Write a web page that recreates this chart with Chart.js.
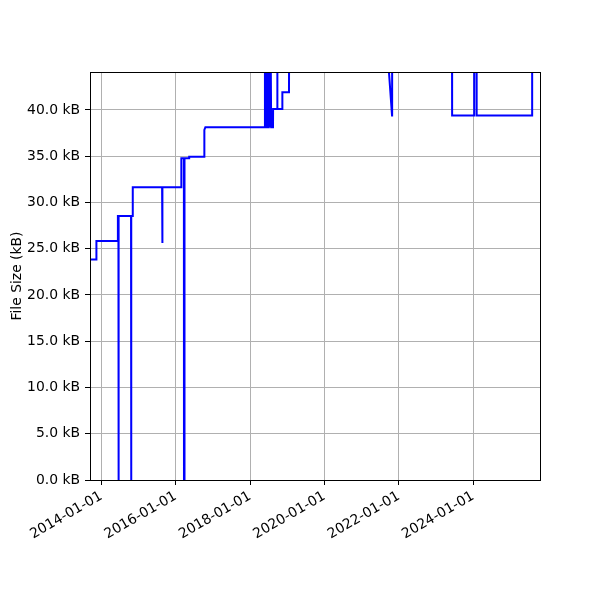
<!DOCTYPE html>
<html>
<head>
<meta charset="utf-8">
<script src="https://cdn.jsdelivr.net/npm/chart.js@4"></script>
<style>
  html, body { margin: 0; padding: 0; background: #ffffff; }
  #wrap { width: 600px; height: 600px; }
</style>
</head>
<body>
<div id="wrap"><canvas id="c" width="600" height="600"></canvas></div>
<script>
// ---- data ----
const dates = [
  '2013-09-12','2013-11-13','2013-11-14','2014-06-12','2014-06-13','2014-06-18','2014-06-19','2014-06-21',
  '2014-10-20','2014-10-21','2014-10-23','2014-11-05','2014-11-06',
  '2015-08-21','2015-08-23','2015-08-25',
  '2016-02-25','2016-02-26','2016-03-22','2016-03-23','2016-03-25','2016-03-27','2016-03-29',
  '2016-05-12','2016-05-13','2016-10-08','2016-10-09','2016-10-19',
  '2018-05-25','2018-05-27','2018-05-30','2018-06-05','2018-06-08','2018-06-14','2018-06-17',
  '2018-06-23','2018-06-26','2018-07-02','2018-07-05','2018-07-12','2018-07-15','2018-07-22','2018-07-27',
  '2018-08-14','2018-08-15','2018-09-24','2018-09-25','2018-09-27','2018-11-13','2018-11-14',
  '2019-01-18','2019-01-19','2021-09-07','2021-10-26','2021-10-27',
  '2023-06-07','2023-06-08','2024-01-10','2024-01-11','2024-02-03','2024-02-04',
  '2025-08-01','2025-08-02','2025-10-18'
];
const sizesKB = [
  23.84,23.84,25.84,25.84,28.54,28.54,0,28.54,
  28.54,0,28.54,28.54,31.64,
  31.64,25.62,31.64,
  31.64,34.78,34.78,0,34.78,0,34.78,
  34.78,34.95,34.95,37.84,38.13,
  38.13,47,38.13,47,38.13,47,38.13,
  47,38.13,47,38.13,47,38.13,47,38.13,
  38.13,40.1,40.1,47,40.1,40.1,41.9,
  41.9,46,47,39.4,47,
  47,39.4,39.4,47,47,39.4,
  39.4,47,47
];
const xTickDates = ['2014-01-01','2016-01-01','2018-01-01','2020-01-01','2022-01-01','2024-01-01'];
const yTickValues = [0,5,10,15,20,25,30,35,40];
const xRange = ['2013-09-12','2025-10-18'];
const yRange = [0, 44.1];
const yTitle = 'File Size (kB)';

// ---- chart ----
const points = dates.map((d, i) => ({ x: Date.parse(d), y: sizesKB[i] }));
const FONT = { family: '"DejaVu Sans", sans-serif', size: 13.9 };

const framePlugin = {
  id: 'frame',
  afterDatasetsDraw(chart) {
    const a = chart.chartArea, ctx = chart.ctx;
    ctx.save();
    ctx.strokeStyle = '#000000';
    ctx.lineWidth = 1;
    ctx.strokeRect(Math.round(a.left) + 0.5, Math.round(a.top) + 0.5,
                   Math.round(a.right - a.left), Math.round(a.bottom - a.top));
    ctx.restore();
  }
};

new Chart(document.getElementById('c'), {
  type: 'line',
  data: {
    datasets: [{
      data: points,
      borderColor: '#0000ff',
      borderWidth: 2,
      pointRadius: 0,
      tension: 0,
      fill: false,
      clip: 0
    }]
  },
  options: {
    responsive: false,
    animation: false,
    devicePixelRatio: 1,
    layout: { padding: { left: 0, top: 72, right: 60, bottom: 0 } },
    plugins: { legend: { display: false }, tooltip: { enabled: false } },
    scales: {
      x: {
        type: 'linear',
        min: Date.parse(xRange[0]),
        max: Date.parse(xRange[1]),
        afterBuildTicks(axis) { axis.ticks = xTickDates.map(d => ({ value: Date.parse(d) })); },
        afterFit(axis) { axis.height = 120; },
        grid: { color: '#b0b0b0', lineWidth: 1, tickColor: '#000000', tickLength: 5, drawTicks: true },
        border: { display: false },
        ticks: {
          autoSkip: false, minRotation: 30, maxRotation: 30, padding: 3,
          color: '#000000', font: FONT,
          callback(v) { return new Date(v).toISOString().slice(0, 10); }
        }
      },
      y: {
        type: 'linear',
        min: yRange[0],
        max: yRange[1],
        afterBuildTicks(axis) { axis.ticks = yTickValues.map(v => ({ value: v })); },
        afterFit(axis) { axis.width = 90; },
        grid: { color: '#b0b0b0', lineWidth: 1, tickColor: '#000000', tickLength: 5, drawTicks: true },
        border: { display: false },
        title: { display: true, text: yTitle, color: '#000000', font: FONT, padding: { top: 9, bottom: 4 } },
        ticks: {
          padding: 5, color: '#000000', font: FONT,
          callback(v) { return v.toFixed(1) + ' kB'; }
        }
      }
    }
  },
  plugins: [framePlugin]
});
</script>
</body>
</html>
